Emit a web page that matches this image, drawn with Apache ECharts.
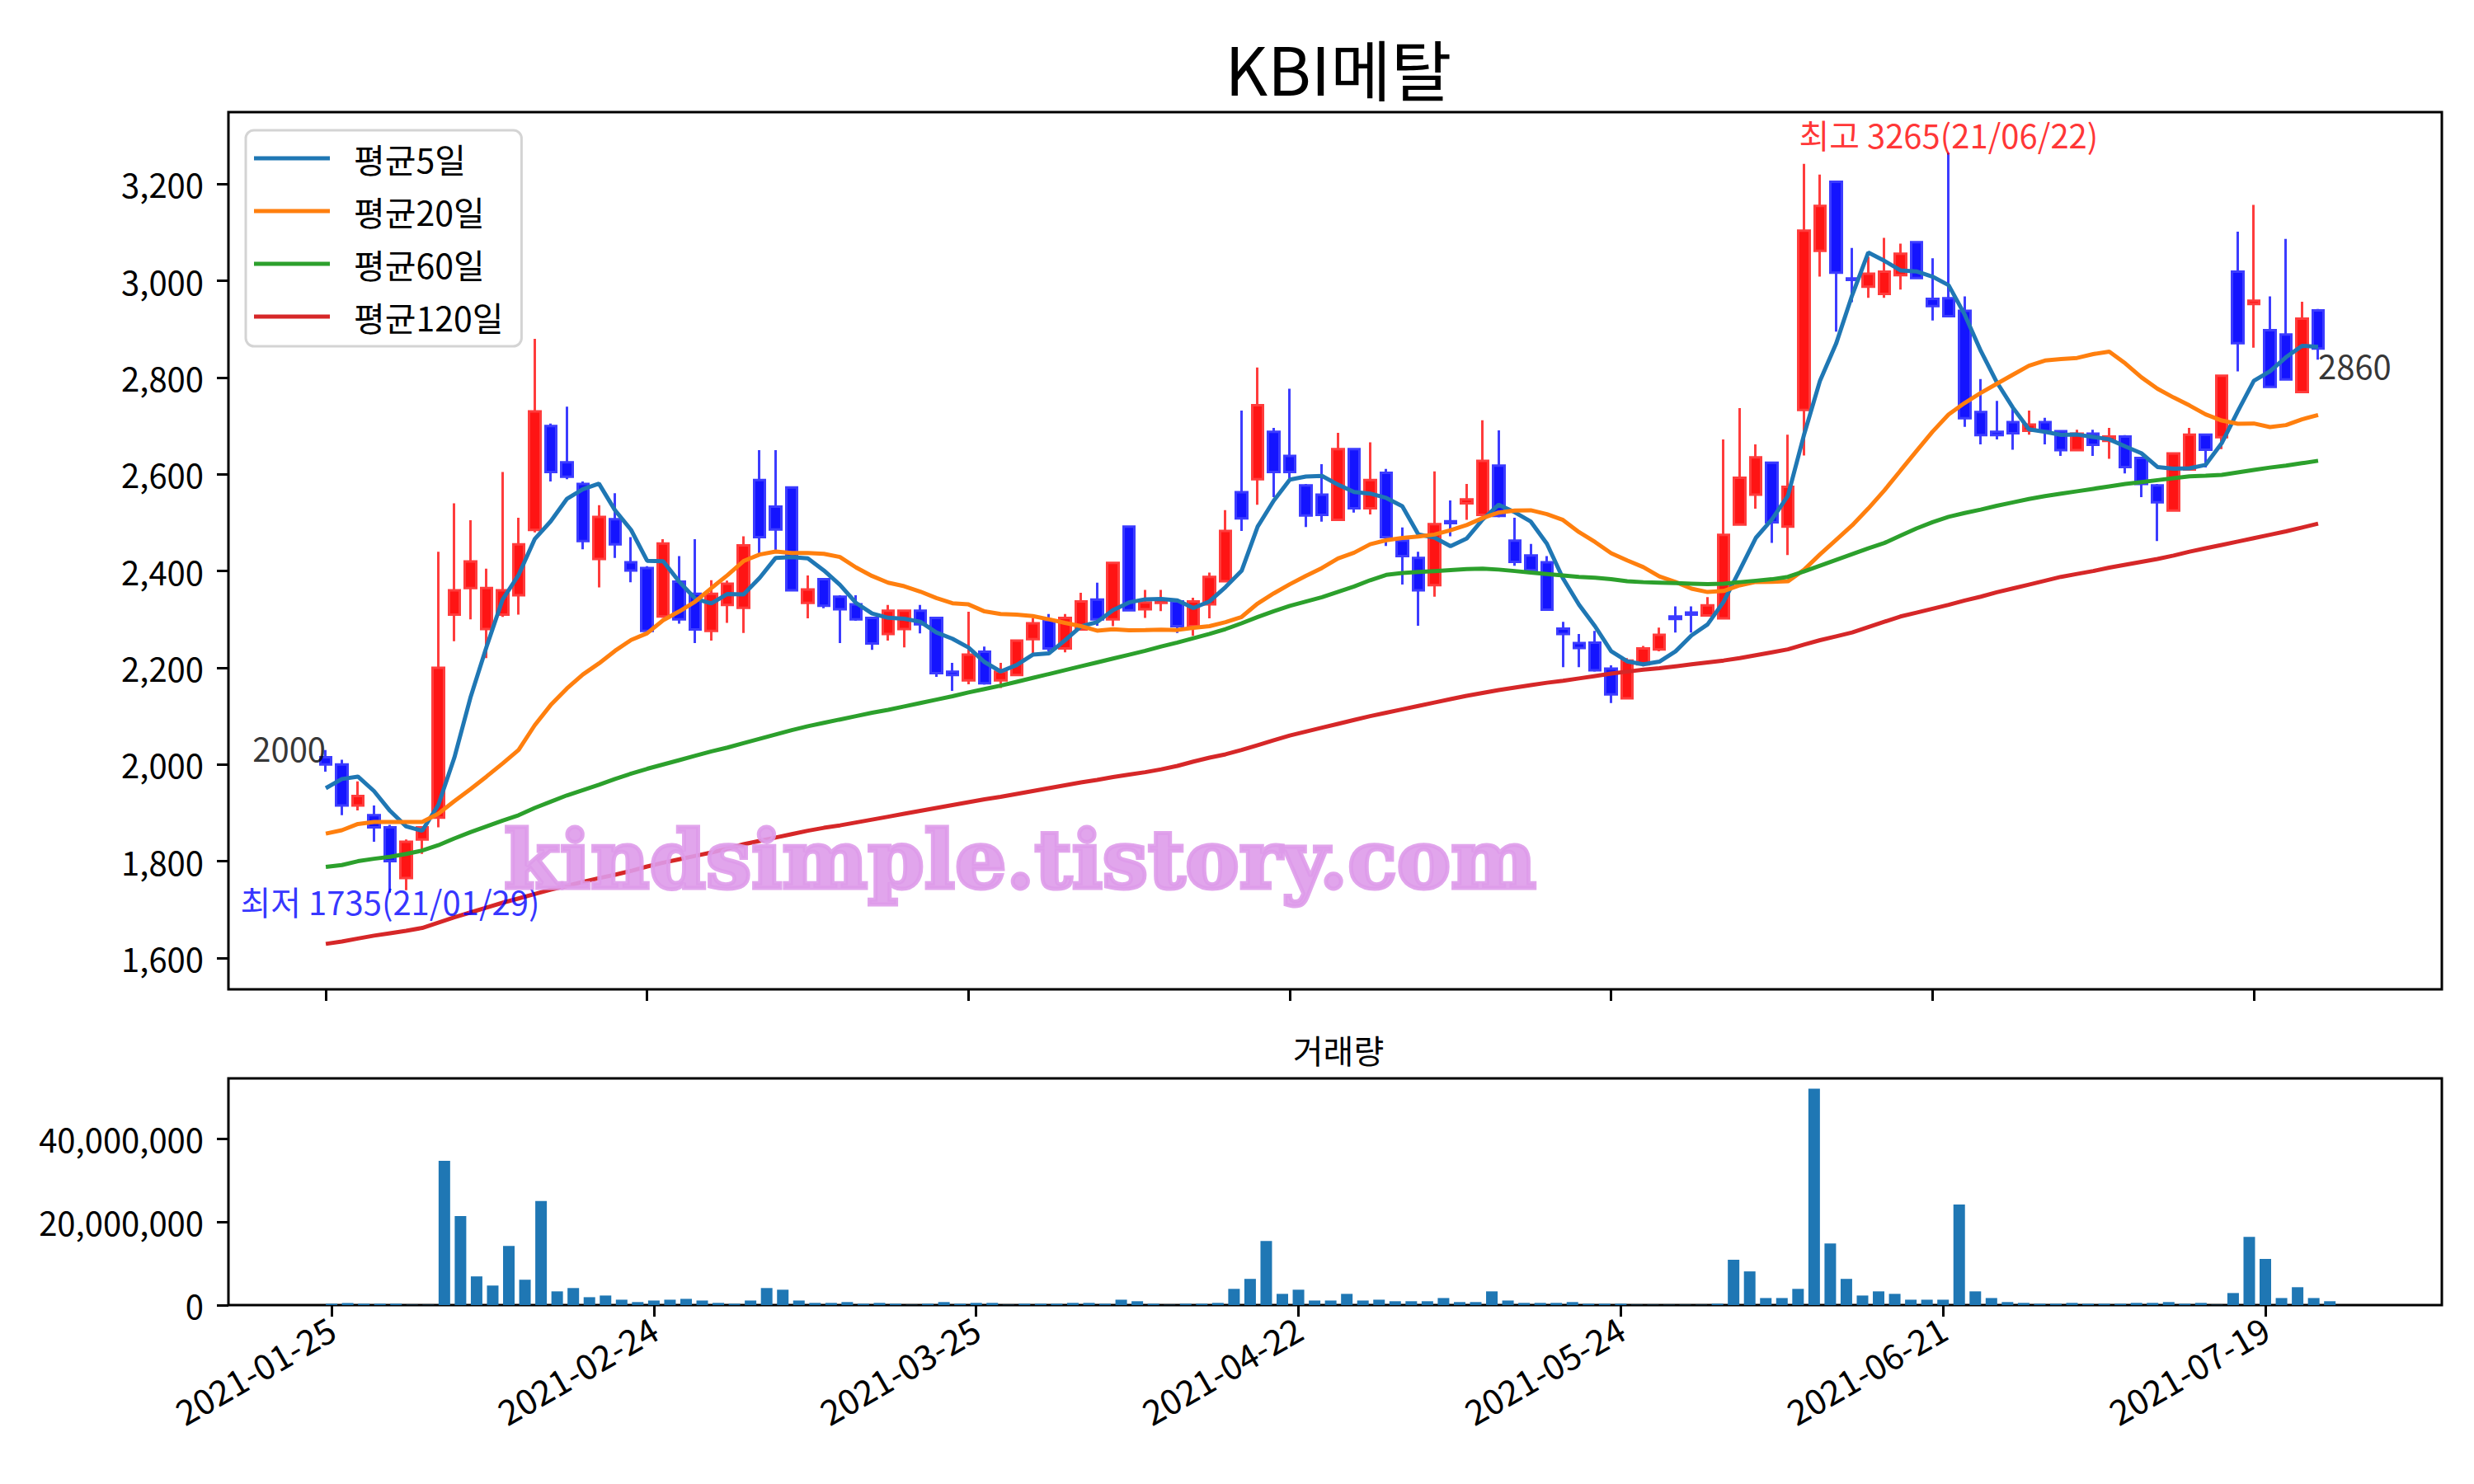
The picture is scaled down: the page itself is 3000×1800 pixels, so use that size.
<!DOCTYPE html>
<html>
<head>
<meta charset="utf-8">
<title>KBI메탈</title>
<script src="https://cdn.jsdelivr.net/npm/echarts@6/dist/echarts.min.js"></script>
<style>
html,body{margin:0;padding:0;background:#fff}
#chart{width:3000px;height:1800px}
</style>
</head>
<body>
<div id="chart"></div>
<script>
// 거래일 (주말, 휴장일 제외)
var startDay = '2021-01-25';
var dayCount = 125;
var holidays = ['2021-02-11', '2021-02-12', '2021-03-01', '2021-05-05', '2021-05-19'];

// 시가 / 고가 / 저가 / 종가
var opens = [
  2015,2000,1915,1895,1870,1765,1845,1890,2310,2365,
  2280,2310,2350,2485,2700,2625,2580,2425,2507,2418,
  2406,2306,2378,2353,2276,2330,2324,2588,2533,2573,
  2334,2383,2347,2331,2303,2270,2280,2318,2303,2192,
  2174,2233,2174,2185,2259,2298,2240,2279,2341,2300,
  2492,2321,2334,2337,2286,2331,2379,2563,2590,2688,
  2638,2577,2558,2506,2652,2530,2603,2463,2427,2371,
  2503,2540,2516,2618,2463,2432,2418,2281,2251,2252,
  2198,2137,2207,2238,2306,2314,2308,2302,2496,2558,
  2624,2492,2733,3062,3205,3005,2988,2973,3012,3080,
  2963,2964,2938,2729,2688,2708,2690,2708,2689,2650,
  2684,2669,2678,2634,2577,2525,2610,2682,2677,3019,
  2952,2898,2889,2770,2939
];
var highs = [
  2030,2010,1965,1915,1875,1845,1870,2440,2540,2505,
  2405,2605,2510,2880,2705,2740,2585,2536,2561,2470,
  2410,2466,2431,2466,2381,2380,2472,2650,2650,2575,
  2391,2385,2350,2350,2305,2330,2320,2330,2305,2210,
  2316,2244,2210,2258,2303,2311,2311,2355,2376,2419,
  2494,2361,2361,2338,2345,2397,2526,2732,2821,2696,
  2777,2580,2621,2686,2653,2666,2611,2490,2440,2606,
  2546,2580,2712,2691,2510,2456,2431,2295,2270,2276,
  2205,2220,2245,2283,2327,2327,2346,2672,2737,2662,
  2625,2682,3242,3220,3207,3068,3050,3089,3077,3082,
  3047,3265,2968,2797,2752,2738,2732,2717,2690,2692,
  2692,2696,2681,2635,2580,2643,2696,2683,2804,3102,
  3157,2968,3087,2957,2942
];
var lows = [
  1985,1895,1905,1840,1735,1740,1815,1870,2255,2300,
  2220,2305,2310,2480,2585,2590,2445,2366,2427,2377,
  2274,2303,2291,2251,2256,2293,2272,2433,2439,2360,
  2302,2323,2251,2297,2237,2256,2242,2271,2181,2152,
  2166,2165,2158,2183,2230,2234,2232,2277,2287,2286,
  2317,2303,2317,2272,2266,2302,2377,2483,2537,2553,
  2592,2491,2502,2505,2521,2517,2452,2372,2287,2347,
  2472,2506,2515,2511,2411,2402,2320,2201,2201,2192,
  2127,2135,2203,2234,2273,2273,2306,2300,2496,2529,
  2458,2433,2639,3009,2895,2956,2965,2965,2982,3004,
  2918,2925,2698,2662,2672,2651,2682,2662,2638,2649,
  2638,2632,2602,2553,2462,2524,2609,2614,2652,2813,
  2862,2780,2795,2769,2837
];
var closes = [
  2000,1915,1935,1870,1800,1840,1870,2200,2360,2420,
  2365,2360,2455,2730,2605,2595,2462,2512,2455,2401,
  2276,2457,2300,2279,2353,2374,2453,2470,2486,2360,
  2362,2328,2321,2300,2250,2318,2318,2290,2189,2185,
  2227,2168,2192,2256,2292,2240,2303,2337,2300,2417,
  2319,2335,2340,2286,2337,2388,2483,2509,2743,2605,
  2605,2515,2516,2652,2530,2588,2470,2431,2360,2497,
  2499,2548,2628,2514,2419,2402,2320,2270,2241,2195,
  2145,2215,2240,2268,2301,2310,2329,2475,2593,2635,
  2501,2574,3104,3155,3017,3002,3015,3019,3056,3006,
  2948,2927,2716,2681,2681,2685,2703,2689,2650,2684,
  2661,2678,2615,2580,2542,2643,2682,2651,2804,2871,
  2959,2781,2796,2922,2860
];
// 거래량
var volumes = [
  330000,500000,330000,330000,330000,60000,60000,34700000,21400000,6900000,
  4700000,14200000,6100000,25000000,3300000,4100000,1900000,2300000,1300000,730000,
  1100000,1300000,1500000,1100000,530000,330000,1100000,4100000,3700000,1100000,
  530000,530000,730000,330000,530000,330000,60000,330000,730000,330000,
  530000,530000,60000,330000,330000,330000,530000,530000,330000,1300000,
  930000,330000,60000,330000,330000,530000,3900000,6300000,15400000,2700000,
  3700000,1100000,1100000,2700000,1100000,1300000,930000,930000,930000,1700000,
  730000,730000,3300000,1100000,530000,530000,530000,730000,330000,330000,
  330000,60000,60000,60000,60000,60000,330000,10900000,8100000,1700000,
  1700000,3900000,52000000,14800000,6300000,2300000,3300000,2700000,1300000,1300000,
  1300000,24200000,3300000,1700000,730000,530000,330000,330000,530000,330000,
  330000,330000,530000,530000,730000,330000,530000,60000,2900000,16400000,
  11100000,1700000,4300000,1700000,930000
];
// 이동평균 앞부분 (이전 거래일 데이터가 필요한 구간, 그림에서 읽음)
var ma5Head = [1951, 1970, 1975, 1945];
var ma20Head = [1857,1864,1877,1881,1881,1881,1881,1898,1924,1949,
                1975,2002,2030,2081,2123,2157,2186,2209,2235];
// 60일, 120일 이동평균
var ma60 = [
  1788,1792,1800,1805,1809,1815,1822,1833,1847,1860,
  1872,1884,1895,1910,1923,1936,1947,1958,1970,1981,
  1991,2000,2009,2018,2027,2035,2044,2053,2062,2071,
  2079,2086,2093,2100,2107,2113,2120,2127,2134,2141,
  2149,2156,2163,2171,2179,2187,2195,2203,2211,2219,
  2227,2235,2244,2252,2261,2270,2280,2292,2305,2317,
  2328,2337,2346,2357,2368,2381,2392,2396,2398,2400,
  2402,2404,2405,2403,2400,2397,2394,2391,2388,2386,
  2383,2379,2377,2376,2375,2374,2373,2374,2377,2380,
  2383,2388,2399,2411,2423,2435,2447,2458,2473,2488,
  2501,2512,2520,2527,2535,2542,2549,2555,2560,2565,
  2570,2575,2580,2584,2588,2592,2596,2597,2599,2604,
  2609,2614,2618,2623,2628
];
var ma120 = [
  1629,1634,1640,1646,1651,1656,1662,1673,1684,1694,
  1704,1714,1723,1732,1741,1749,1757,1765,1772,1780,
  1789,1797,1804,1811,1818,1826,1835,1842,1849,1856,
  1863,1869,1874,1880,1886,1892,1898,1904,1910,1916,
  1922,1928,1933,1939,1945,1951,1957,1963,1968,1974,
  1979,1984,1990,1997,2006,2014,2021,2030,2040,2050,
  2060,2068,2076,2084,2092,2100,2107,2114,2121,2128,
  2135,2142,2148,2154,2159,2164,2169,2173,2178,2183,
  2188,2192,2196,2199,2203,2207,2211,2215,2220,2226,
  2232,2238,2248,2257,2265,2273,2284,2295,2306,2314,
  2322,2330,2339,2347,2356,2364,2372,2380,2388,2394,
  2400,2407,2413,2419,2425,2432,2440,2447,2454,2461,
  2468,2475,2482,2490,2498
];
// 눈금
var dateTicks = [0, 20, 40, 60, 80, 100, 120];
var priceTicks = [1600, 1800, 2000, 2200, 2400, 2600, 2800, 3000, 3200];
var volumeTicks = [0, 20000000, 40000000];

function makeDates(start, n, skip) {
  var out = [];
  var d = new Date(start + 'T00:00:00Z');
  while (out.length < n) {
    var s = d.toISOString().slice(0, 10);
    var wd = d.getUTCDay();
    if (wd !== 0 && wd !== 6 && skip.indexOf(s) < 0) out.push(s);
    d.setUTCDate(d.getUTCDate() + 1);
  }
  return out;
}
var dates = makeDates(startDay, dayCount, holidays);

function movingAvg(n, head) {
  return closes.map(function (c, i) {
    if (i < n - 1) return head[i];
    var s = 0;
    for (var k = i - n + 1; k <= i; k++) s += closes[k];
    return s / n;
  });
}
function pairs(arr) {
  return arr.map(function (v, i) { return [i, v]; });
}
function comma(v) { return Number(v).toLocaleString('en-US'); }
function shortDate(s) { return s.slice(2).replace(/-/g, '/'); }

var ma5 = movingAvg(5, ma5Head);
var ma20 = movingAvg(20, ma20Head);

var lowVal = Math.min.apply(null, lows), lowIdx = lows.indexOf(lowVal);
var highVal = Math.max.apply(null, highs), highIdx = highs.indexOf(highVal);
var last = closes.length - 1;

var FONT = '"Noto Sans CJK KR", "Noto Sans", sans-serif';
var tickStyle = {show: true, inside: false, length: 14, lineStyle: {color: '#000', width: 3}};
var noLine = {show: false, onZero: false};

var myChart = echarts.init(document.getElementById('chart'), null, {renderer: 'svg'});

var option = {
  animation: false,
  backgroundColor: '#fff',
  textStyle: {fontFamily: FONT},
  grid: [
    {left: 277, top: 136, width: 2684, height: 1064, show: true, borderColor: '#000', borderWidth: 3},
    {left: 277, top: 1308, width: 2684, height: 275, show: true, borderColor: '#000', borderWidth: 3}
  ],
  xAxis: [
    {
      type: 'value', gridIndex: 0, min: -6.06, max: 131.7,
      axisLine: noLine, splitLine: {show: false},
      axisTick: Object.assign({customValues: dateTicks}, tickStyle),
      axisLabel: {show: false}
    },
    {
      type: 'value', gridIndex: 1, min: -6.4, max: 130.95,
      axisLine: noLine, splitLine: {show: false},
      axisTick: Object.assign({customValues: dateTicks}, tickStyle),
      axisLabel: {
        customValues: dateTicks, rotate: 30, margin: 24,
        fontSize: 42, color: '#000', fontFamily: FONT,
        formatter: function (v) { return dates[v]; }
      }
    }
  ],
  yAxis: [
    {
      type: 'value', gridIndex: 0, min: 1535, max: 3349,
      axisLine: noLine, splitLine: {show: false},
      axisTick: Object.assign({customValues: priceTicks}, tickStyle),
      axisLabel: {customValues: priceTicks, margin: 30, fontSize: 40, color: '#000', fontFamily: FONT, formatter: comma}
    },
    {
      type: 'value', gridIndex: 1, min: 0, max: 54500000,
      axisLine: noLine, splitLine: {show: false},
      axisTick: Object.assign({customValues: volumeTicks}, tickStyle),
      axisLabel: {customValues: volumeTicks, margin: 30, fontSize: 40, color: '#000', fontFamily: FONT, formatter: comma}
    }
  ],
  legend: {
    orient: 'vertical', left: 298, top: 158,
    data: ['평균5일', '평균20일', '평균60일', '평균120일'],
    icon: 'rect', itemWidth: 92, itemHeight: 5, itemGap: 16,
    padding: [10, 22, 12, 10],
    backgroundColor: 'rgba(255,255,255,0.85)',
    borderColor: '#d4d4d4', borderWidth: 3, borderRadius: 10,
    textStyle: {fontSize: 41, color: '#000', fontFamily: FONT, lineHeight: 48, padding: [0, 0, 0, 24]}
  },
  graphic: [
    {type: 'text', x: 1623, y: 81, z: 100,
     style: {text: 'KBI메탈', fontSize: 80, fontFamily: FONT, fill: '#000', align: 'center', verticalAlign: 'middle'}},
    {type: 'text', x: 1623, y: 1273, z: 100,
     style: {text: '거래량', fontSize: 40, fontFamily: FONT, fill: '#000', align: 'center', verticalAlign: 'middle'}},
    {type: 'text', x: 1237, y: 1042, z: 100,
     style: {text: 'kindsimple.tistory.com', fontSize: 98, fontWeight: 'bold', fontFamily: '"DejaVu Serif", serif',
             fill: 'rgba(222,155,234,0.9)', stroke: 'rgba(222,155,234,0.9)', lineWidth: 5,
             align: 'center', verticalAlign: 'middle'}}
  ],
  series: [
    {
      name: '캔들', type: 'candlestick', xAxisIndex: 0, yAxisIndex: 0,
      barWidth: 14,
      data: closes.map(function (c, i) { return [i, opens[i], c, lows[i], highs[i]]; }),
      encode: {x: 0, y: [1, 2, 3, 4]},
      itemStyle: {
        color: '#ff1414', color0: '#1414ff',
        borderColor: '#ff3c3c', borderColor0: '#3c3cff', borderWidth: 3
      },
      z: 2
    },
    {name: '평균5일', type: 'line', xAxisIndex: 0, yAxisIndex: 0, data: pairs(ma5), showSymbol: false,
     color: '#1f77b4', lineStyle: {width: 5}, z: 3},
    {name: '평균20일', type: 'line', xAxisIndex: 0, yAxisIndex: 0, data: pairs(ma20), showSymbol: false,
     color: '#ff7f0e', lineStyle: {width: 5}, z: 3},
    {name: '평균60일', type: 'line', xAxisIndex: 0, yAxisIndex: 0, data: pairs(ma60), showSymbol: false,
     color: '#2ca02c', lineStyle: {width: 5}, z: 3},
    {name: '평균120일', type: 'line', xAxisIndex: 0, yAxisIndex: 0, data: pairs(ma120), showSymbol: false,
     color: '#d62728', lineStyle: {width: 5}, z: 3},
    {
      name: '주석', type: 'scatter', xAxisIndex: 0, yAxisIndex: 0, symbolSize: 0, silent: true, z: 5,
      label: {show: true, position: [0, 0], fontSize: 40, fontFamily: FONT},
      data: [
        {value: [0, closes[0]], label: {formatter: String(closes[0]), align: 'right', verticalAlign: 'bottom', color: '#000'}},
        {value: [last, closes[last]], label: {formatter: String(closes[last]), align: 'left', verticalAlign: 'top', color: '#000'}},
        {value: [lowIdx, lowVal], label: {formatter: '최저 ' + lowVal + '(' + shortDate(dates[lowIdx]) + ')',
          align: 'center', verticalAlign: 'top', color: '#0000ff', offset: [0, -10]}},
        {value: [highIdx, highVal], label: {formatter: '최고 ' + highVal + '(' + shortDate(dates[highIdx]) + ')',
          align: 'center', verticalAlign: 'bottom', color: '#ff0000', offset: [0, -2]}}
      ]
    },
    {
      name: '거래량', type: 'bar', xAxisIndex: 1, yAxisIndex: 1,
      barWidth: 14, color: '#1f77b4',
      data: pairs(volumes)
    }
  ]
};
myChart.setOption(option);
window.addEventListener('resize', function () {
  myChart.resize();
});
</script>
</body>
</html>
